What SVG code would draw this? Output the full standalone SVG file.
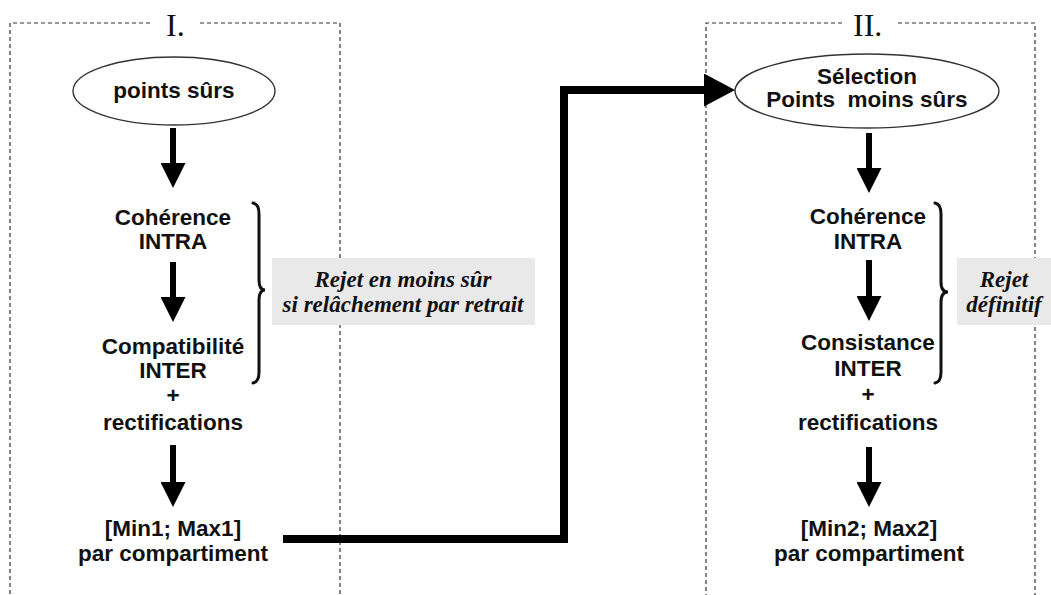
<svg xmlns="http://www.w3.org/2000/svg" width="1051" height="595" viewBox="0 0 1051 595">
<style>
.frame{fill:none;stroke:#333;stroke-width:1.2;stroke-dasharray:4 3}
.num{font-family:"Liberation Serif","Times New Roman",serif;font-size:32px;fill:#111}
.lbl{font-family:"Liberation Sans",Arial,sans-serif;font-size:22.5px;font-weight:bold;fill:#111;text-anchor:middle}
.note{font-family:"Liberation Serif","Times New Roman",serif;font-size:23px;font-weight:bold;font-style:italic;fill:#111;text-anchor:middle}
.oval{fill:#fff;stroke:#333;stroke-width:1.4}
.shaft{stroke:#000;stroke-width:6;fill:none;marker-end:url(#ah)}
.big{stroke:#000;stroke-width:8;fill:none;stroke-linejoin:miter;marker-end:url(#ah2)}
.brace{fill:none;stroke:#111;stroke-width:3;stroke-linecap:round}
.grey{fill:#e9e9e9}
</style>
<defs>
<marker id="ah" markerUnits="userSpaceOnUse" markerWidth="25" markerHeight="25" viewBox="0 0 25 25" refX="0" refY="12.5" orient="auto">
<path d="M0,0 L25,12.5 L0,25 Z" fill="#000"/>
</marker>
<marker id="ah2" markerUnits="userSpaceOnUse" markerWidth="31" markerHeight="33" viewBox="0 0 31 33" refX="0" refY="16.5" orient="auto">
<path d="M0,0 L31,16.5 L0,33 Z" fill="#000"/>
</marker>
</defs>
<rect width="1051" height="595" fill="#fff"/>

<g id="frame1">
<path class="frame" d="M150,23 H10 V595 M200,23 H340 V595"/>
<text class="num" x="166" y="36">I.</text>
</g>
<g id="frame2">
<path class="frame" d="M842,23 H706 V595 M898,23 H1035 V595"/>
<text class="num" x="853" y="36">II.</text>
</g>

<g id="points-surs">
<ellipse class="oval" cx="174" cy="91" rx="101" ry="34"/>
<text class="lbl" x="174" y="98">points sûrs</text>
</g>
<g id="coherence1">
<text class="lbl" x="173" y="225">Cohérence</text>
<text class="lbl" x="173" y="249">INTRA</text>
</g>
<g id="compatibilite">
<text class="lbl" x="173" y="354">Compatibilité</text>
<text class="lbl" x="173" y="378">INTER</text>
<text class="lbl" x="173" y="403">+</text>
<text class="lbl" x="173" y="430">rectifications</text>
</g>
<g id="minmax1">
<text class="lbl" x="173" y="536">[Min1; Max1]</text>
<text class="lbl" x="173" y="561">par compartiment</text>
</g>
<g id="rejet1">
<path class="brace" d="M253,203 Q259,204 259,214 V280 Q259,290 265,290 Q259,290 259,300 V372 Q259,382 253,383"/>
<rect class="grey" x="272" y="258" width="263" height="67"/>
<text class="note" x="403" y="287">Rejet en moins sûr</text>
<text class="note" x="403" y="312">si relâchement par retrait</text>
</g>

<g id="selection">
<ellipse class="oval" cx="867" cy="91" rx="132" ry="37"/>
<text class="lbl" x="867" y="84">Sélection</text>
<text class="lbl" x="867" y="107" xml:space="preserve">Points  moins sûrs</text>
</g>
<g id="coherence2">
<text class="lbl" x="868" y="224">Cohérence</text>
<text class="lbl" x="868" y="249">INTRA</text>
</g>
<g id="consistance">
<text class="lbl" x="868" y="350">Consistance</text>
<text class="lbl" x="868" y="376">INTER</text>
<text class="lbl" x="868" y="402">+</text>
<text class="lbl" x="868" y="430">rectifications</text>
</g>
<g id="minmax2">
<text class="lbl" x="869" y="536">[Min2; Max2]</text>
<text class="lbl" x="869" y="561">par compartiment</text>
</g>
<g id="rejet2">
<path class="brace" d="M935,203 Q941,204 941,214 V282 Q941,292 948,292 Q941,292 941,302 V372 Q941,382 935,383"/>
<rect class="grey" x="957" y="258" width="94" height="67"/>
<text class="note" x="1004" y="287">Rejet</text>
<text class="note" x="1004" y="312">définitif</text>
</g>

<g id="connectors">
<line class="shaft" x1="173" y1="128" x2="173" y2="163"/>
<line class="shaft" x1="173" y1="262" x2="173" y2="297"/>
<line class="shaft" x1="173" y1="445" x2="173" y2="482"/>
<line class="shaft" x1="869" y1="133" x2="869" y2="168"/>
<line class="shaft" x1="869" y1="260" x2="869" y2="296"/>
<line class="shaft" x1="869" y1="447" x2="869" y2="482"/>
<polyline class="big" points="283,539 564,539 564,90 704,90"/>
</g>
</svg>
